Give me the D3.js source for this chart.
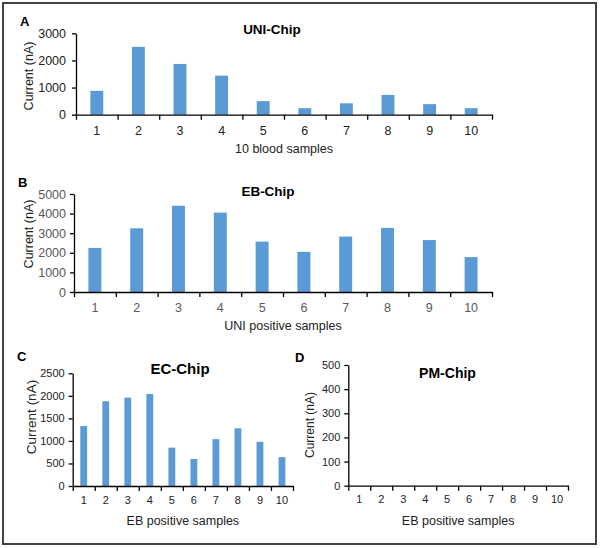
<!DOCTYPE html>
<html>
<head>
<meta charset="utf-8">
<script src="https://cdnjs.cloudflare.com/ajax/libs/d3/7.8.5/d3.min.js"></script>
<style>
  body { margin: 0; background: #fff; }
  svg text { font-family: "Liberation Sans", Arial, sans-serif; }
</style>
</head>
<body>
<div id="app"></div>
<script>
// sample numbers on the x axis
let samples = ['1', '2', '3', '4', '5', '6', '7', '8', '9', '10'];

// current (nA) for each chip
let uniValues = [880, 2500, 1870, 1440, 500, 240, 420, 730, 390, 240];
let ebValues = [2250, 3250, 4400, 4050, 2570, 2050, 2830, 3270, 2650, 1780];
let ecValues = [1330, 1880, 1960, 2040, 850, 600, 1040, 1280, 980, 640];
let pmValues = [0, 0, 0, 0, 0, 0, 0, 0, 0, 0];

// y tick labels
let uniTicks = [0, 1000, 2000, 3000];
let ebTicks = [0, 1000, 2000, 3000, 4000, 5000];
let ecTicks = [0, 500, 1000, 1500, 2000, 2500];
let pmTicks = [0, 100, 200, 300, 400, 500];

let barColor = '#5b9bd5';

let svg = d3.select('#app').append('svg')
    .attr('width', 600)
    .attr('height', 548)
    .style('background', '#fff')

// frame round the whole figure
svg.append('rect')
    .attr('x', 3).attr('y', 3)
    .attr('width', 593).attr('height', 541)
    .attr('fill', 'none')
    .attr('stroke', '#444')
    .attr('stroke-width', 2)

function drawPanel(p) {
  let x = d3.scaleBand()
            .domain(samples)
            .range([p.x0, p.x1])
            .paddingInner(0.69)
            .paddingOuter(0.345)

  let y = d3.scaleLinear()
            .domain([0, p.ticks[p.ticks.length - 1]])
            .range([p.y0, p.yTop])

  // boundaries between categories, for the excel style ticks
  let edges = d3.scaleLinear()
                .domain([0, samples.length])
                .range([p.x0, p.x1])

  let g = svg.append('g')

  g.selectAll('rect.bar')
    .data(p.values)
    .enter()
    .append('rect')
      .attr('class', 'bar')
      .attr('x', (d, i) => x(samples[i]))
      .attr('width', x.bandwidth())
      .attr('y', d => y(d))
      .attr('height', d => p.y0 - y(d))
      .style('fill', barColor)

  let yAxis = g.append('g')
    .attr('transform', `translate(${p.x0}, 0)`)
    .call(d3.axisLeft(y).tickValues(p.ticks).tickFormat(d3.format('d'))
            .tickSize(4).tickSizeOuter(0).tickPadding(p.yPad))
  yAxis.selectAll('text')
    .style('font-size', p.yFont + 'px')
    .style('fill', p.textColor)

  g.append('g')
    .attr('transform', `translate(0, ${p.y0})`)
    .call(d3.axisBottom(edges).tickValues(d3.range(0, samples.length + 1))
            .tickSize(5).tickSizeOuter(0).tickFormat(''))

  let xAxis = g.append('g')
    .attr('transform', `translate(0, ${p.y0})`)
    .call(d3.axisBottom(x).tickSize(0).tickPadding(p.xPad))
  xAxis.select('.domain').remove()
  xAxis.selectAll('text')
    .style('font-size', p.xFont + 'px')
    .style('fill', p.textColor)

  g.selectAll('.domain, .tick line')
    .attr('stroke', '#000')
    .attr('stroke-width', 1.3)

  g.append('text')
    .attr('x', p.titleX).attr('y', p.titleY)
    .attr('text-anchor', 'middle')
    .style('font-size', p.titleFont + 'px')
    .style('font-weight', 'bold')
    .text(p.title)

  g.append('text')
    .attr('x', p.letterX).attr('y', p.letterY)
    .style('font-size', '13px')
    .style('font-weight', 'bold')
    .text(p.letter)

  g.append('text')
    .attr('x', (p.x0 + p.x1) / 2).attr('y', p.xTitleY)
    .attr('text-anchor', 'middle')
    .style('font-size', p.xTitleFont + 'px')
    .style('fill', '#222')
    .text(p.xTitle)

  g.append('text')
    .attr('transform', `translate(${p.yTitleX}, ${p.yTitleY}) rotate(-90)`)
    .attr('text-anchor', 'middle')
    .style('font-size', p.yTitleFont + 'px')
    .style('fill', '#222')
    .text('Current (nA)')
}

drawPanel({
  values: uniValues, ticks: uniTicks, title: 'UNI-Chip', letter: 'A', xTitle: '10 blood samples',
  x0: 76, x1: 492, y0: 114.7, yTop: 33.3,
  yPad: 6, xPad: 11, yFont: 12.5, xFont: 12.5, textColor: '#222',
  titleX: 272, titleY: 33.5, titleFont: 13.5, letterX: 20, letterY: 26,
  xTitleY: 153, xTitleFont: 12.5, yTitleX: 33, yTitleY: 76, yTitleFont: 12.5
})

drawPanel({
  values: ebValues, ticks: ebTicks, title: 'EB-Chip', letter: 'B', xTitle: 'UNI positive samples',
  x0: 74, x1: 492, y0: 292, yTop: 194,
  yPad: 4, xPad: 11, yFont: 12.5, xFont: 12.5, textColor: '#595959',
  titleX: 268, titleY: 195.5, titleFont: 13.5, letterX: 18, letterY: 187,
  xTitleY: 329.5, xTitleFont: 12.5, yTitleX: 33, yTitleY: 234, yTitleFont: 12.5
})

drawPanel({
  values: ecValues, ticks: ecTicks, title: 'EC-Chip', letter: 'C', xTitle: 'EB positive samples',
  x0: 72.7, x1: 293, y0: 486, yTop: 373.3,
  yPad: 4, xPad: 10.5, yFont: 11, xFont: 11, textColor: '#222',
  titleX: 180, titleY: 373.5, titleFont: 15, letterX: 17, letterY: 361,
  xTitleY: 524.5, xTitleFont: 12.5, yTitleX: 36, yTitleY: 417, yTitleFont: 13.5
})

drawPanel({
  values: pmValues, ticks: pmTicks, title: 'PM-Chip', letter: 'D', xTitle: 'EB positive samples',
  x0: 348.3, x1: 568, y0: 485.7, yTop: 365,
  yPad: 4, xPad: 10, yFont: 11, xFont: 11, textColor: '#222',
  titleX: 447.5, titleY: 377.5, titleFont: 14, letterX: 295, letterY: 362,
  xTitleY: 524.5, xTitleFont: 12.5, yTitleX: 314, yTitleY: 425, yTitleFont: 12
})
</script>
</body>
</html>
